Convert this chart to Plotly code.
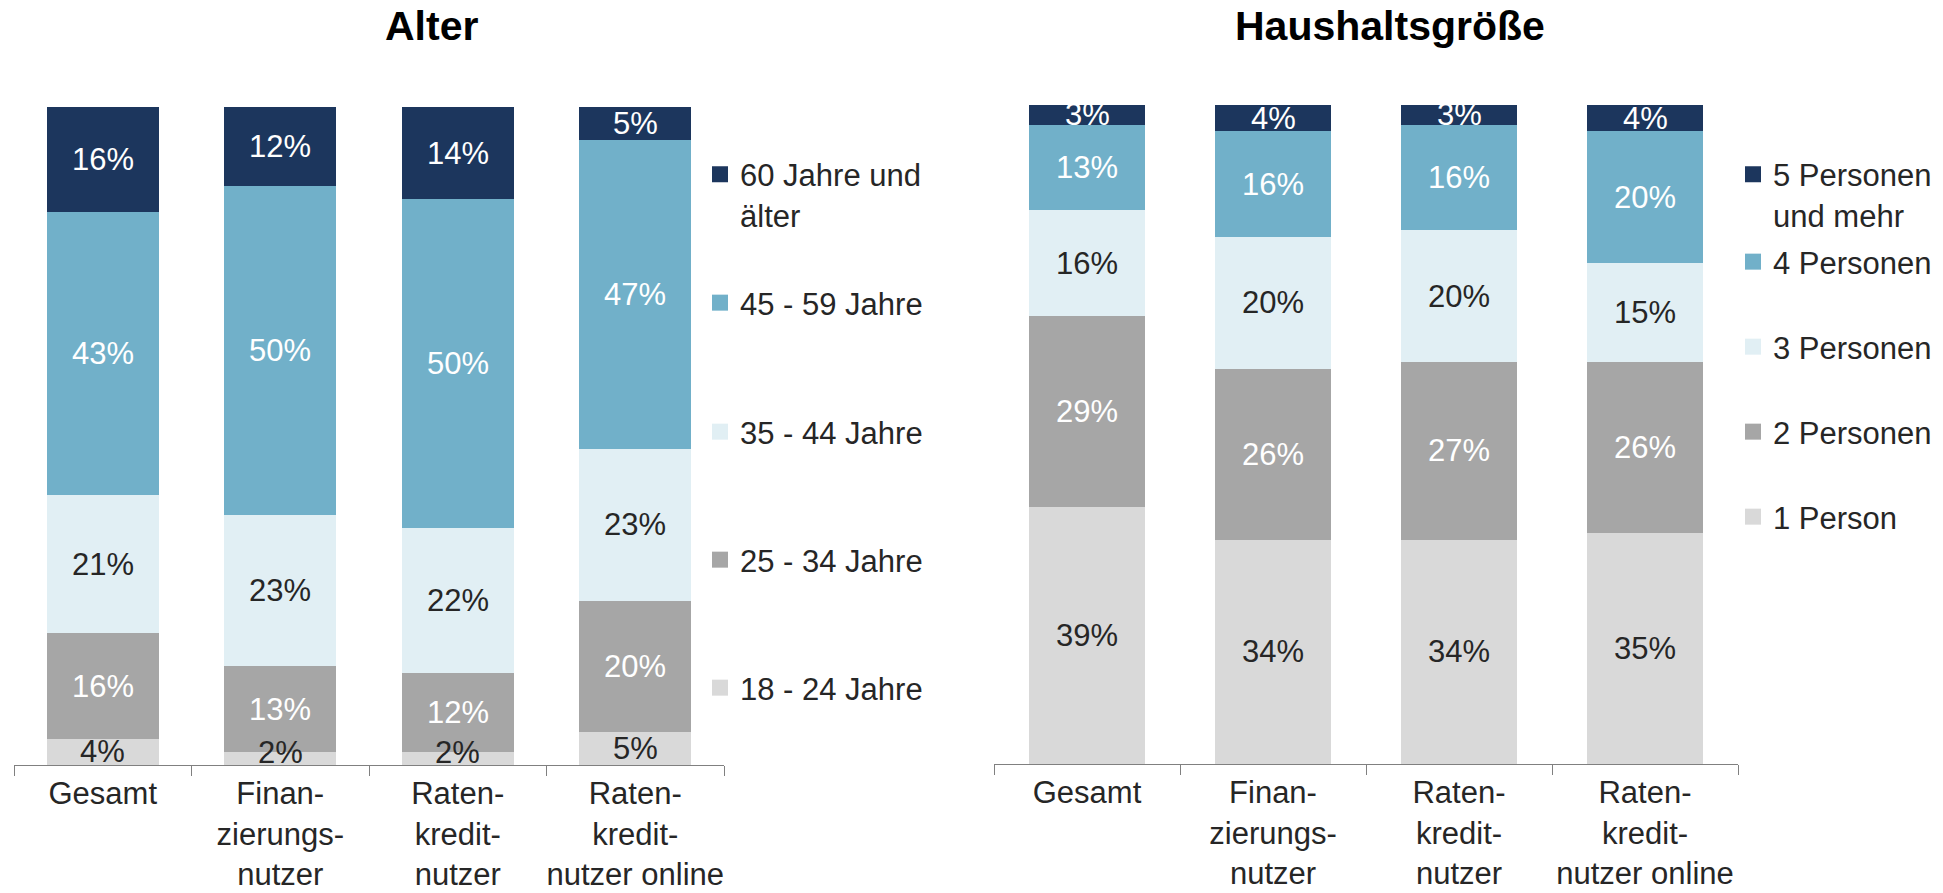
import plotly.graph_objects as go

# ---- data -------------------------------------------------------------
categories = ["Gesamt", "Finan-<br>zierungs-<br>nutzer", "Raten-<br>kredit-<br>nutzer",
              "Raten-<br>kredit-<br>nutzer online"]

# Alter (stacked bottom -> top)
alter_labels = ["18 - 24 Jahre", "25 - 34 Jahre", "35 - 44 Jahre", "45 - 59 Jahre",
                "60 Jahre und<br>älter"]
alter_18_24 = [4, 2, 2, 5]
alter_25_34 = [16, 13, 12, 20]
alter_35_44 = [21, 23, 22, 23]
alter_45_59 = [43, 50, 50, 47]
alter_60_plus = [16, 12, 14, 5]

# Haushaltsgröße (stacked bottom -> top)
haushalt_labels = ["1 Person", "2 Personen", "3 Personen", "4 Personen",
                   "5 Personen<br>und mehr"]
hh_1 = [39, 34, 34, 35]
hh_2 = [29, 26, 27, 26]
hh_3 = [16, 20, 20, 15]
hh_4 = [13, 16, 16, 20]
hh_5_plus = [3, 4, 3, 4]

# ---- styling ----------------------------------------------------------
W, H = 1943, 893
FONT = "Liberation Sans, Arial, sans-serif"
TXT = "#262626"
colors = ["#D9D9D9", "#A6A6A6", "#E1EFF4", "#71B0C9", "#1C365D"]
label_colors = [TXT, "white", TXT, "white", "white"]
FS = 31


def px_x(x):
    return x / W


def px_y(y):
    return 1 - y / H


fig = go.Figure()

panels = [
    dict(series=[alter_18_24, alter_25_34, alter_35_44, alter_45_59, alter_60_plus],
         names=alter_labels, xa="x", ya="y", width=0.63, y_px=(765, 107),
         leg_x=700, leg_y=[688, 560, 432, 303, 194.5], first_leg=1),
    dict(series=[hh_1, hh_2, hh_3, hh_4, hh_5_plus],
         names=haushalt_labels, xa="x2", ya="y2", width=0.624, y_px=(764, 105),
         leg_x=1733, leg_y=[517, 432, 347, 262, 194.5], first_leg=6),
]

legend_layouts = {}
annotations = []
for p in panels:
    px_per_unit = (p["y_px"][0] - p["y_px"][1]) / 100.0
    base = [0] * len(categories)
    for i, (vals, name) in enumerate(zip(p["series"], p["names"])):
        fig.add_trace(go.Bar(
            x=categories, y=vals, name=name.replace("<br>", " "),
            xaxis=p["xa"], yaxis=p["ya"], width=p["width"],
            marker=dict(color=colors[i], line=dict(width=0)),
            showlegend=False, hoverinfo="skip",
        ))
        # value labels centred in each segment; thin bottom segments keep
        # their label clear of the axis line
        for c, v in enumerate(vals):
            half_px = v / 2 * px_per_unit
            shift = 13 - half_px if (base[c] == 0 and half_px < 13) else 0
            annotations.append(dict(
                x=categories[c], y=base[c] + v / 2, xref=p["xa"], yref=p["ya"],
                text=f"{v}%", showarrow=False, yshift=shift,
                xanchor="center", yanchor="middle",
                font=dict(family=FONT, size=FS, color=label_colors[i]),
            ))
            base[c] += v
        # legend entry with a larger square swatch
        leg_idx = p["first_leg"] + i
        leg_key = "legend" if leg_idx == 1 else f"legend{leg_idx}"
        fig.add_trace(go.Scatter(
            x=[None], y=[None], mode="markers", name=name,
            xaxis=p["xa"], yaxis=p["ya"],
            marker=dict(symbol="square", size=16, color=colors[i]),
            showlegend=True, legend=leg_key, hoverinfo="skip",
        ))
        legend_layouts[leg_key] = dict(
            x=px_x(p["leg_x"]), xanchor="left",
            y=px_y(p["leg_y"][i]), yanchor="middle",
            valign="top", bgcolor="rgba(0,0,0,0)", borderwidth=0,
            font=dict(family=FONT, size=FS, color=TXT),
        )

axis_common = dict(
    type="category", showgrid=False, zeroline=False,
    showline=True, linecolor="#808080", linewidth=1.3,
    ticks="outside", tickson="boundaries", ticklen=10, tickcolor="#808080",
    tickwidth=1.3, tickangle=0, ticklabelstandoff=1,
    tickfont=dict(family=FONT, size=FS, color=TXT),
    automargin=False, fixedrange=True,
)

annotations += [
    dict(text="<b>Alter</b>", x=px_x(431), y=px_y(26), xref="paper", yref="paper",
         showarrow=False, xanchor="center", yanchor="middle",
         font=dict(family=FONT, size=41, color="black")),
    dict(text="<b>Haushaltsgröße</b>", x=px_x(1390), y=px_y(26), xref="paper",
         yref="paper", showarrow=False, xanchor="center", yanchor="middle",
         font=dict(family=FONT, size=41, color="black")),
]

fig.update_layout(
    width=W, height=H,
    margin=dict(l=0, r=0, t=0, b=0, autoexpand=False),
    paper_bgcolor="white", plot_bgcolor="white",
    barmode="stack",
    font=dict(family=FONT, size=FS, color=TXT),
    xaxis=dict(domain=[px_x(14), px_x(724)], anchor="y", **axis_common),
    yaxis=dict(domain=[px_y(765), px_y(107)], range=[0, 100], visible=False,
               anchor="x", fixedrange=True),
    xaxis2=dict(domain=[px_x(994), px_x(1738)], anchor="y2", **axis_common),
    yaxis2=dict(domain=[px_y(764), px_y(105)], range=[0, 100], visible=False,
                anchor="x2", fixedrange=True),
    annotations=annotations,
    **legend_layouts,
)

fig.write_html("out.html", config={"displayModeBar": False})
